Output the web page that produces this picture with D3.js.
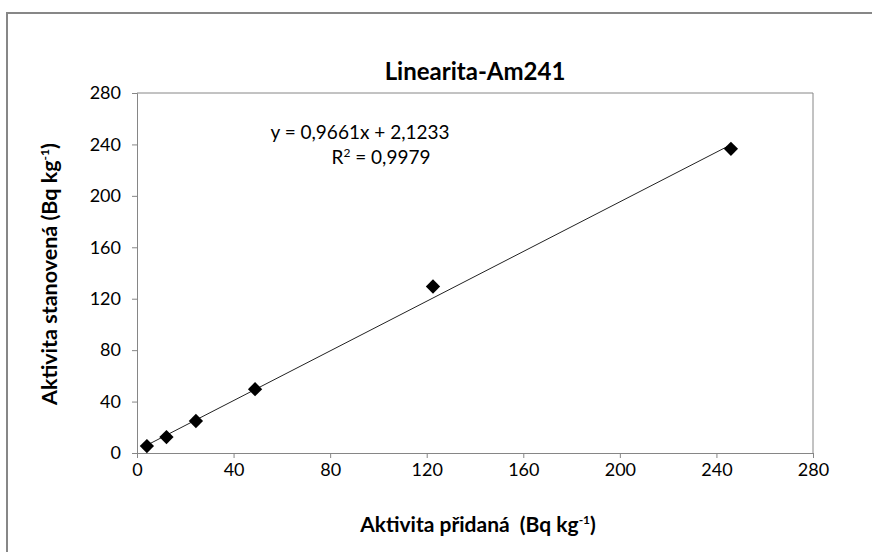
<!DOCTYPE html>
<html>
<head>
<meta charset="utf-8">
<script src="https://cdn.jsdelivr.net/npm/d3@7"></script>
<style>
    html, body { margin: 0; background: #fff; overflow: hidden; }
    svg { display: block; }
    text { font-family: Lato, "Open Sans", sans-serif; white-space: pre; }
</style>
</head>
<body>
<div id="svg-container"></div>
<script>
// values
var addedActivity = [4.1, 12.2, 24.4, 48.9, 122.6, 246];
var measuredActivity = [5.4, 12.4, 24.9, 49.6, 129.5, 236.6];
var xTicks = [0, 40, 80, 120, 160, 200, 240, 280];
var yTicks = [0, 40, 80, 120, 160, 200, 240, 280];
var slope = 0.9661;
var intercept = 2.1233;
var rSquared = "0,9979";

var width = 872;
var height = 552;

var svg = d3.select("#svg-container").append("svg")
    .attr("width", width)
    .attr("height", height);

// outer chart frame - only left and top edges are inside the picture
svg.append("path")
    .attr("d", "M7,560V13H880")
    .attr("fill", "none")
    .attr("stroke", "#878787")
    .attr("stroke-width", 2);

var x = d3.scaleLinear().domain([0, 280]).range([137, 813]);
var y = d3.scaleLinear().domain([0, 280]).range([453, 93]);

var fmt = function(d) { return d; };

// plot area border (top + right)
svg.append("path")
    .attr("d", "M" + x(0) + "," + y(280) + "H" + x(280) + "V" + y(0))
    .attr("fill", "none")
    .attr("stroke", "#868686")
    .attr("stroke-width", 1);

// x axis
var xAxis = svg.append("g")
    .attr("transform", "translate(0," + y(0) + ")")
    .call(d3.axisBottom(x).tickValues(xTicks).tickFormat(fmt).tickSize(5).tickPadding(5));

// y axis
var yAxis = svg.append("g")
    .attr("transform", "translate(" + x(0) + ",0)")
    .call(d3.axisLeft(y).tickValues(yTicks).tickFormat(fmt).tickSize(5).tickPadding(11));

[xAxis, yAxis].forEach(function(a) {
    a.select(".domain").attr("stroke", "#868686");
    a.selectAll(".tick line").attr("stroke", "#868686");
    a.selectAll(".tick text")
        .attr("font-family", "Lato, sans-serif")
        .attr("font-size", "18px")
        .attr("fill", "#000");
});

// linear trendline over the data range
var xMin = d3.min(addedActivity);
var xMax = d3.max(addedActivity);
svg.append("line")
    .attr("x1", x(xMin))
    .attr("y1", y(slope * xMin + intercept))
    .attr("x2", x(xMax))
    .attr("y2", y(slope * xMax + intercept))
    .attr("stroke", "#222")
    .attr("stroke-width", 1);

// diamond markers
var points = addedActivity.map(function(v, i) {
    return { x: v, y: measuredActivity[i] };
});

svg.selectAll("path.pt")
    .data(points)
    .enter()
    .append("path")
    .attr("class", "pt")
    .attr("d", d3.symbol().type(d3.symbolDiamond2).size(130))
    .attr("transform", function(d) {
        return "translate(" + x(d.x) + "," + y(d.y) + ")";
    })
    .attr("fill", "#000");

// title
svg.append("text")
    .attr("x", 475)
    .attr("y", 80)
    .attr("text-anchor", "middle")
    .attr("font-size", "24px")
    .attr("font-weight", "bold")
    .text("Linearita-Am241");

// regression equation
svg.append("text")
    .attr("x", 360)
    .attr("y", 139)
    .attr("text-anchor", "middle")
    .attr("font-size", "19px")
    .text("y = 0,9661x + 2,1233");

var r2 = svg.append("text")
    .attr("x", 381)
    .attr("y", 164)
    .attr("text-anchor", "middle")
    .attr("font-size", "19px");
r2.append("tspan").text("R");
r2.append("tspan").attr("font-size", "12px").attr("dy", -7).text("2");
r2.append("tspan").attr("dy", 7).text(" = " + rSquared);

// x axis title
var xt = svg.append("text")
    .attr("x", 478)
    .attr("y", 532)
    .attr("text-anchor", "middle")
    .attr("font-size", "21px")
    .attr("font-weight", "bold");
xt.append("tspan").text("Aktivita přidaná  (Bq kg");
xt.append("tspan").attr("font-size", "12px").attr("dy", -8).text("-1");
xt.append("tspan").attr("dy", 8).text(")");

// y axis title
var yt = svg.append("text")
    .attr("transform", "translate(57,274) rotate(-90)")
    .attr("text-anchor", "middle")
    .attr("font-size", "21.5px")
    .attr("font-weight", "bold");
yt.append("tspan").text("Aktivita stanovená (Bq kg");
yt.append("tspan").attr("font-size", "12px").attr("dy", -8).text("-1");
yt.append("tspan").attr("dy", 8).text(")");
</script>
</body>
</html>
